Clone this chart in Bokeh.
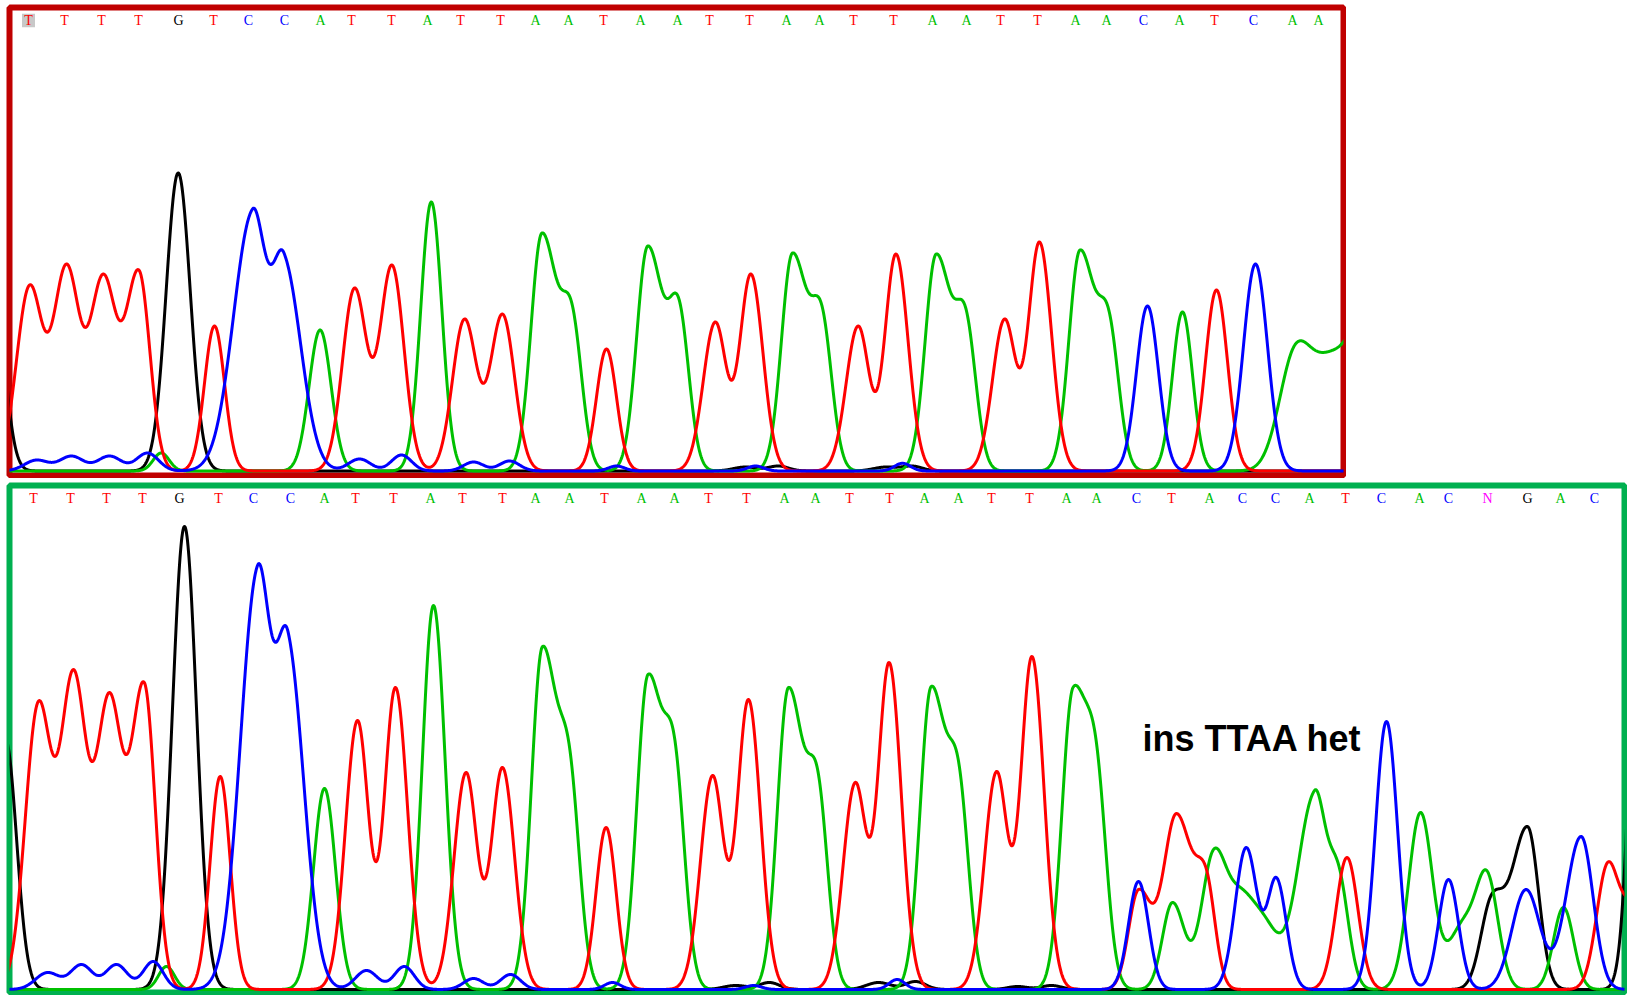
import numpy as np
from bokeh.plotting import figure
from bokeh.layouts import column
from bokeh.models import Range1d, ColumnDataSource, Label
from bokeh.embed import file_html
from bokeh.resources import INLINE
from bokeh.core.properties import value

# ---------------- data ----------------
# base calls (letter, position along trace)
top_bases = list("TTTTGTCCATTATTAATAATTAATTAATTAACATCAA")
top_base_x = [28, 64, 101, 138, 178, 213, 248, 284, 320, 351, 391, 427, 460, 500, 535, 568,
              603, 640, 677, 709, 749, 786, 819, 853, 893, 932, 966, 1000, 1037, 1075, 1106,
              1143, 1179, 1214, 1253, 1292, 1318]
bot_bases = list("TTTTGTCCATTATTAATAATTAATTAATTAACTACCATCACNGAC")
bot_base_x = [33, 70, 106, 142, 179, 218, 253, 290, 324, 355, 393, 430, 462, 502, 535, 569,
              604, 641, 674, 708, 746, 784, 815, 849, 889, 924, 958, 991, 1029, 1066, 1096,
              1136, 1171, 1209, 1242, 1275, 1309, 1345, 1381, 1419, 1448, 1487, 1527, 1560, 1594]

# peaks: (position, height, left width, right width)
top_black = [(-8, 205, 11, 11), (177.7, 298, 12, 12), (745, 4, 12, 12), (778, 5, 10, 10),
             (885, 4, 12, 12), (912, 5, 10, 10)]
top_green = [(160.7, 18, 8, 8), (319.6, 141, 11, 11), (430.8, 269, 10.5, 10.5),
             (541.5, 238, 11, 16), (572, 165, 10, 10), (647.3, 225, 11, 16), (679, 170, 10, 10),
             (792, 218, 11, 16), (822, 163, 10, 10), (935.7, 217, 11, 16), (966, 160, 10, 10),
             (1079.5, 221, 11, 16), (1109, 158, 10, 10), (1182, 159, 10, 10),
             (1295, 127, 16, 17), (1330, 120, 17, 17), (1365, 150, 17, 17)]
top_red = [(29, 186, 13, 13), (66, 207, 13, 13), (102.7, 197, 13, 13), (138.4, 201, 13, 11),
           (214, 145, 10, 10), (354, 183, 12, 12), (391.5, 206, 12, 12), (464, 152, 12, 12),
           (502, 157, 12, 12), (606, 122, 10, 10), (714.7, 149, 12, 11), (750.4, 197, 11, 12),
           (857.6, 145, 12, 11), (895.5, 217, 11, 12), (1004, 152, 12, 11), (1039, 229, 11, 12),
           (1216, 181, 11, 11)]
top_blue = [(36, 11, 12, 12), (71, 15, 12, 12), (109, 15, 12, 12), (147, 18, 11, 11),
            (252, 262, 19, 13), (283.5, 218, 12, 17), (359, 12, 11, 11), (401, 16, 10, 10),
            (473, 9, 10, 10), (509, 10, 10, 10), (616, 5, 8, 8), (755, 5, 8, 8), (902, 7.7, 8, 8),
            (1147, 165, 11, 11), (1255, 207, 12, 12)]

bot_black = [(5, 250, 11, 11), (184, 463, 12, 12), (735, 4, 12, 12), (769, 7, 10, 10),
             (878, 7, 12, 12), (915, 8, 10, 10), (1017, 3, 10, 10), (1051, 4, 10, 10),
             (1491, 95, 11, 12), (1527, 163, 16, 11), (1640, 430, 10, 10)]
bot_green = [(166, 23, 8, 8), (324, 201, 11, 11), (433, 384, 11, 11.5),
             (542, 343, 11, 16), (570, 235, 10, 10), (647.5, 315, 11, 16), (675, 245, 10, 10),
             (788, 302, 11, 16), (818, 215, 10, 10), (930.7, 303, 11, 16), (959, 222, 10, 10),
             (1072.5, 302, 11, 16), (1097, 238, 10, 10),
             (1172, 87, 10, 12), (1213, 140, 12, 13), (1240, 102, 13, 13), (1264, 74, 14, 14),
             (1314, 199, 17, 11), (1338, 125, 10, 10), (1420, 177, 12, 12), (1462, 70, 14, 14),
             (1487, 118, 11, 11), (1563, 82, 10, 10)]
bot_red = [(37.7, 288, 13, 13), (73, 320, 13, 13), (108.8, 297, 13, 13), (143.8, 307, 13, 11),
           (219.7, 213, 10, 10), (357, 269, 12, 11), (395, 302, 11, 12), (465.5, 217, 12, 11),
           (502, 222, 11, 12), (605.6, 162, 10, 10), (712, 214, 12, 11), (748, 290, 11, 12),
           (854.6, 207, 12, 11), (888.7, 327, 11, 12), (996, 218, 12, 11), (1031.5, 333, 11, 12),
           (1138, 100, 10, 13), (1176, 176, 13, 16), (1206, 120, 10, 9), (1346.5, 132, 11, 11),
           (1607, 127, 11, 11), (1632, 85, 11, 11)]
bot_blue = [(47, 17, 12, 12), (81, 25, 11, 11), (116, 25, 11, 11), (152.7, 28, 10, 10),
            (257, 424, 17, 13), (287.7, 357, 12, 16), (366, 19, 11, 11), (403.8, 23, 10, 10),
            (473, 11, 10, 10), (510, 15, 10, 10), (612, 7, 8, 8), (753, 4, 8, 8), (896.6, 10, 8, 8),
            (1138, 108, 10, 10), (1245.7, 142, 11, 11), (1276, 112, 9, 10), (1386, 268, 11, 11),
            (1448, 110, 10, 10), (1525.5, 100, 14, 14), (1580.6, 153, 15, 12)]

annotation = "ins TTAA het"

BASE_COLORS = {"T": "#FF0000", "A": "#00C000", "C": "#0000FF", "G": "#000000", "N": "#FF00FF"}
TRACE_COLORS = {"G": "#000000", "A": "#00C000", "T": "#FF0000", "C": "#0000FF"}


# ---------------- helpers ----------------
def shape(x, c, sl, sr):
    d = x - c
    s = np.where(d < 0, sl, sr)
    return np.exp(-d * d / (2.0 * s * s))


def amplitudes(peaks):
    c = np.array([p[0] for p in peaks], float)
    t = np.array([p[1] for p in peaks], float)
    sl = np.array([p[2] for p in peaks], float)
    sr = np.array([p[3] for p in peaks], float)
    n = len(c)
    A = np.zeros((n, n))
    for j in range(n):
        A[:, j] = shape(c, c[j], sl[j], sr[j])
    active = np.ones(n, bool)
    a = np.zeros(n)
    for _ in range(n):
        a = np.zeros(n)
        idx = np.where(active)[0]
        a[idx] = np.linalg.solve(A[np.ix_(idx, idx)], t[idx])
        if (a >= 0).all():
            break
        active &= a > 0
    return c, np.clip(a, 0, None), sl, sr


def trace(peaks, xs):
    c, a, sl, sr = amplitudes(peaks)
    y = np.zeros_like(xs)
    for cj, aj, l, r in zip(c, a, sl, sr):
        y += aj * shape(xs, cj, l, r)
    return y


def make_panel(width, height, xr, yr, mb, border_color):
    p = figure(width=width, height=height, x_range=Range1d(*xr), y_range=Range1d(*yr),
               output_backend="svg", toolbar_location=None,
               x_axis_type=None, y_axis_type=None,
               min_border_left=mb[0], min_border_top=mb[1],
               min_border_right=mb[2], min_border_bottom=mb[3])
    p.xgrid.visible = False
    p.ygrid.visible = False
    p.outline_line_color = border_color
    p.outline_line_width = 6
    p.background_fill_color = "white"
    p.border_fill_color = "white"
    return p


def draw_traces(p, channels, xr):
    xs = np.arange(xr[0] - 5, xr[1] + 5, 0.5)
    for key, peaks in channels:
        ys = trace(peaks, xs)
        p.line(xs, ys, line_color=TRACE_COLORS[key], line_width=3, line_join="round")


def draw_bases(p, bases, xpos, y):
    src = ColumnDataSource(dict(x=xpos, y=[y] * len(bases), t=bases,
                                c=[BASE_COLORS[b] for b in bases]))
    p.text(x="x", y="y", text="t", text_color="c", source=src,
           text_font=value("Liberation Serif"), text_font_size="14px",
           text_align="center", text_baseline="middle")


# ---------------- top panel ----------------
top_xr = (9, 1343)
top_yr = (-4.5, 463.5)
pt = make_panel(1346, 478, top_xr, top_yr, (9, 7, 3, 3), "#C00000")
pt.rect(x=[top_base_x[0]], y=[450.5], width=13, height=13.5,
        fill_color="#C8C8C8", line_color=None)
draw_traces(pt, [("G", top_black), ("A", top_green), ("T", top_red), ("C", top_blue)], top_xr)
draw_bases(pt, top_bases, top_base_x, 450.5)

# ---------------- bottom panel ----------------
bot_xr = (9, 1624)
bot_yr = (-3, 504)
pb = make_panel(1627, 517, bot_xr, bot_yr, (9, 7, 3, 3), "#00B050")
draw_traces(pb, [("G", bot_black), ("A", bot_green), ("T", bot_red), ("C", bot_blue)], bot_xr)
draw_bases(pb, bot_bases, bot_base_x, 491)
pb.add_layout(Label(x=1142, y=251, text=annotation, text_font="Liberation Sans",
                    text_font_style="bold", text_font_size="36px", text_color="black",
                    text_baseline="alphabetic"))

layout = column(pt, pb, spacing=0)
open("out.html", "w").write(file_html(layout, INLINE))
